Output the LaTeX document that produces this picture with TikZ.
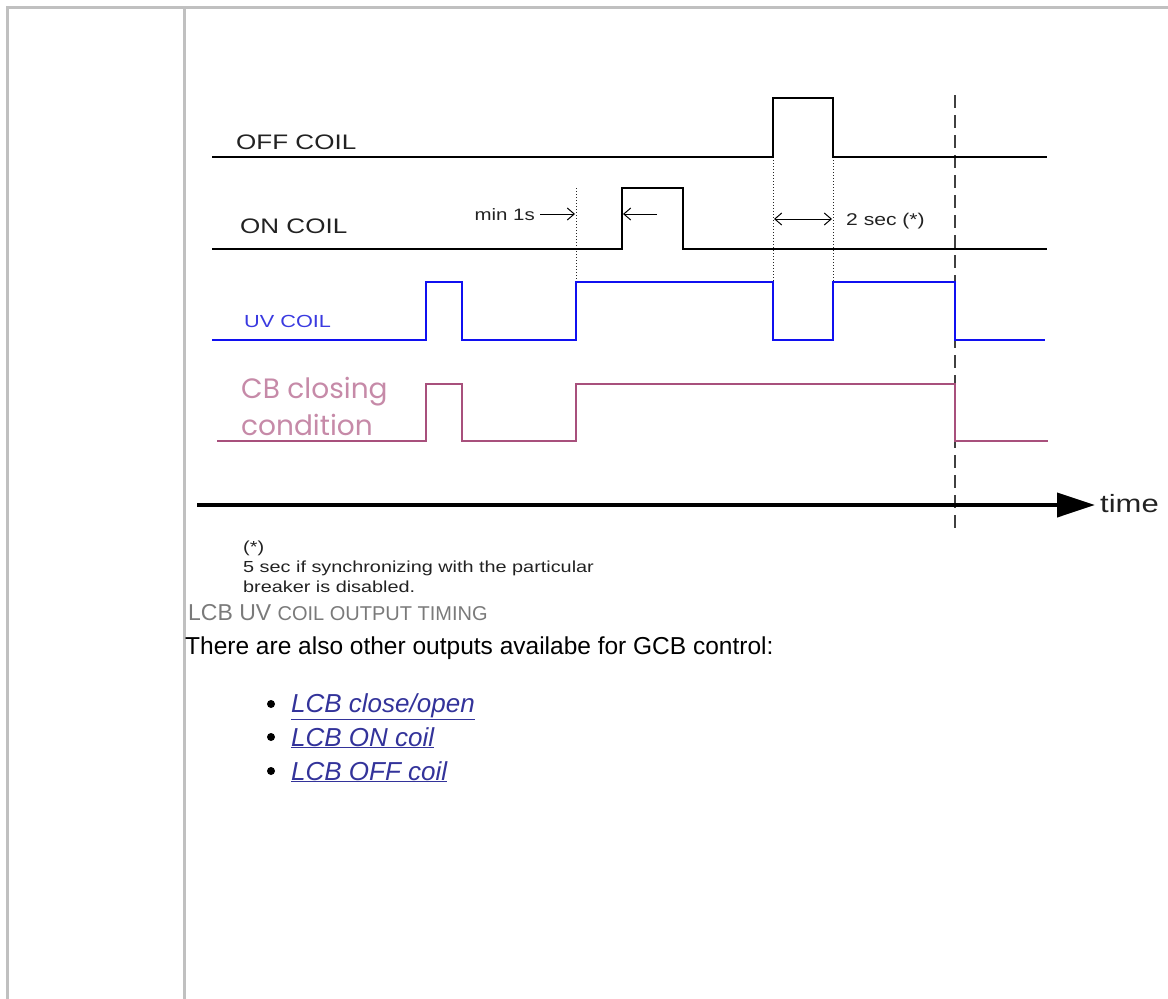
\documentclass[tikz,border=0pt]{standalone}
\usepackage{fontspec}
\setmainfont{Liberation Sans}
\newfontfamily\roundfont{Poppins}
\usetikzlibrary{arrows.meta}
\definecolor{framegray}{HTML}{C0C0C0}
\definecolor{uvblue}{HTML}{1010F0}
\definecolor{uvtext}{HTML}{3A3AE0}
\definecolor{cbline}{HTML}{A8507C}
\definecolor{cbtext}{HTML}{C68AA8}
\definecolor{capgray}{HTML}{7A7A7A}
\definecolor{linkblue}{HTML}{33339A}
\definecolor{txtgray}{HTML}{222222}
\newcommand\sx[1]{\scalebox{1.24}[1]{#1}}
\newcommand\fsz[1]{\fontsize{#1}{#1}\selectfont}
\tikzset{
  frameline/.style={draw=framegray, line width=3pt},
  sig/.style={line width=2.8pt, line join=miter},
  guide/.style={line width=1pt, dotted, black!85},
  cutline/.style={line width=1.6pt, dash pattern=on 13pt off 7pt, black!75},
  dimarrow/.style={line width=1pt, -{Straight Barb[length=7pt,width=12pt]}},
  lbl/.style={anchor=base west, inner sep=0pt, text=txtgray},
  bulletdot/.style={circle, fill=black, inner sep=0pt, minimum size=8pt}
}
\begin{document}
\begin{tikzpicture}[x=1pt,y=-1pt]
\useasboundingbox (0,0) rectangle (1168,999);
% frame
\draw[frameline] (1168,7) -- (7,7) -- (7,999);
\draw[frameline] (184,7) -- (184,999);

% guides
\coordinate (g1t) at (576,188); \coordinate (g1b) at (576,282);
\coordinate (g2t) at (773,157); \coordinate (g2b) at (773,340);
\coordinate (g3t) at (833,157); \coordinate (g3b) at (833,340);
\draw[guide] (g1t) -- (g1b);
\draw[guide] (g2t) -- (g2b);
\draw[guide] (g3t) -- (g3b);
\coordinate (cutT) at (955,95); \coordinate (cutB) at (955,530);
\draw[cutline] (cutT) -- (cutB);

% OFF COIL
\node[lbl] (offl) at (236,149) {\fsz{21}\sx{OFF COIL}};
\draw[sig] (212,157) -- (773,157) -- (773,98) -- (833,98) -- (833,157) -- (1047,157);
% ON COIL
\node[lbl] (onl) at (240,233) {\fsz{21}\sx{ON COIL}};
\draw[sig] (212,249) -- (622,249) -- (622,188) -- (683,188) -- (683,249) -- (1047,249);
% UV COIL
\node[lbl, text=uvtext] (uvl) at (244,327) {\fsz{17.5}\sx{UV COIL}};
\draw[sig, uvblue] (212,340) -- (426,340) -- (426,282) -- (462,282) -- (462,340) -- (576,340) -- (576,282) -- (773,282) -- (773,340) -- (833,340) -- (833,282) -- (955,282) -- (955,340) -- (1045,340);
% CB closing condition
\node[lbl, text=cbtext] (cbl1) at (241,398) {\roundfont\fsz{28}CB closing};
\node[lbl, text=cbtext] (cbl2) at (241,435) {\roundfont\fsz{28}condition};
\draw[sig, cbline] (217,441) -- (426,441) -- (426,384) -- (462,384) -- (462,441) -- (576,441) -- (576,384) -- (955,384) -- (955,441) -- (1048,441);

% min 1s
\node[lbl, anchor=base east] (min) at (535,220) {\fsz{16.5}\sx{min 1s}};
\coordinate (m1a) at (540,214); \coordinate (m1b) at (575,214);
\draw[dimarrow] (m1a) -- (m1b);
\coordinate (m2a) at (657,214); \coordinate (m2b) at (623,214);
\draw[dimarrow] (m2a) -- (m2b);
% 2 sec
\coordinate (d1) at (774,219); \coordinate (d2) at (832,219);
\draw[dimarrow, {Straight Barb[length=7pt,width=12pt]}-{Straight Barb[length=7pt,width=12pt]}] (d1) -- (d2);
\node[lbl] (two) at (846,225) {\fsz{17}\sx{2 sec (*)}};

% time axis
\coordinate (ta) at (197,505); \coordinate (tb) at (1095,505);
\draw[line width=4pt, -{Triangle[length=38pt,width=24pt]}] (ta) -- (tb);
\node[lbl] (time) at (1100,512) {\fsz{25}\sx{time}};

% footnote
\node[lbl] (fn1) at (243,552) {\fsz{16}\sx{(*)}};
\node[lbl] (fn2) at (243,572) {\fsz{16}\sx{5 sec if synchronizing with the particular}};
\node[lbl] (fn3) at (243,592) {\fsz{16}\sx{breaker is disabled.}};

% caption
\node[lbl, text=capgray] (cap) at (188,620) {\fsz{23}LCB UV \fsz{20}COIL OUTPUT TIMING};

% body
\node[lbl, text=black] (body) at (185,654) {\fsz{24.5}There are also other outputs availabe for GCB control:};
\node[bulletdot] (b1) at (271,704) {};
\node[bulletdot] (b2) at (271,737) {};
\node[bulletdot] (b3) at (271,771) {};
\node[lbl, text=linkblue] (l1) at (291,712) {\fsz{26}\itshape\underline{LCB close/open}};
\node[lbl, text=linkblue] (l2) at (291,746) {\fsz{26}\itshape\underline{LCB ON coil}};
\node[lbl, text=linkblue] (l3) at (291,780) {\fsz{26}\itshape\underline{LCB OFF coil}};
\end{tikzpicture}
\end{document}
